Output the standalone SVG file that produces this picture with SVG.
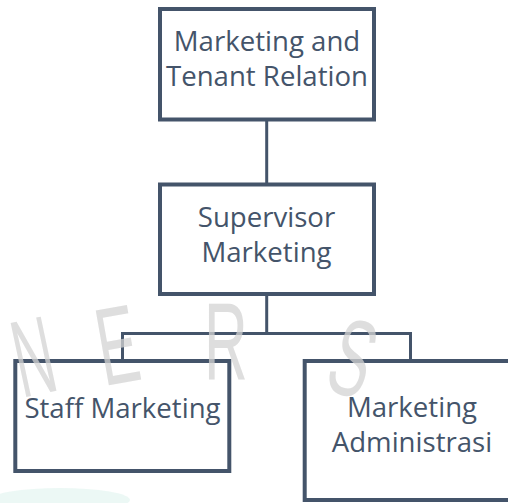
<svg xmlns="http://www.w3.org/2000/svg" width="508" height="503" viewBox="0 0 508 503">
<style>
.box{fill:#ffffff;stroke:#44546A;stroke-width:4}
.lbl{font-family:"Open Sans","Noto Sans",sans-serif;font-size:27.6px;fill:#44546A;text-anchor:middle}
.wm{font-family:"Liberation Sans",sans-serif;font-size:110px;fill:#d3d3d3;fill-opacity:0.75}
</style>
<rect width="508" height="503" fill="#ffffff"/>
<g id="connectors" fill="none" stroke="#44546A" stroke-width="3">
<line x1="266.7" y1="120" x2="266.7" y2="184"/>
<line x1="266.7" y1="294" x2="266.7" y2="333.5"/>
<polyline points="122.5,360 122.5,333.5 410.5,333.5 410.5,360"/>
</g>
<g id="n1">
<rect class="box" x="160" y="9" width="214" height="110.5"/>
<text class="lbl" x="267" y="50.5">Marketing and</text>
<text class="lbl" x="267" y="85.5">Tenant Relation</text>
</g>
<g id="n2">
<rect class="box" x="160" y="184.5" width="214" height="109.5"/>
<text class="lbl" x="266.5" y="226.5">Supervisor</text>
<text class="lbl" x="266.5" y="261.5">Marketing</text>
</g>
<g id="n3">
<rect class="box" x="15.3" y="361" width="214" height="110"/>
<text class="lbl" x="122.5" y="418.3">Staff Marketing</text>
</g>
<g id="n4">
<rect class="box" x="304.7" y="361" width="220" height="139"/>
<text class="lbl" x="412" y="416.7">Marketing</text>
<text class="lbl" x="412" y="451.7">Administrasi</text>
</g>
<g id="watermark">
<text class="wm" transform="translate(22,398) rotate(-12) scale(0.5,1)">N</text>
<text class="wm" transform="translate(104,386) rotate(-10) scale(0.55,1)">E</text>
<text class="wm" transform="translate(204,379) scale(0.55,1)">R</text>
<text class="wm" transform="translate(322,388) rotate(18) scale(0.55,1)">S</text>
<ellipse cx="60" cy="500" rx="70" ry="12" fill="#dff3ee" fill-opacity="0.6"/>
</g>
</svg>
